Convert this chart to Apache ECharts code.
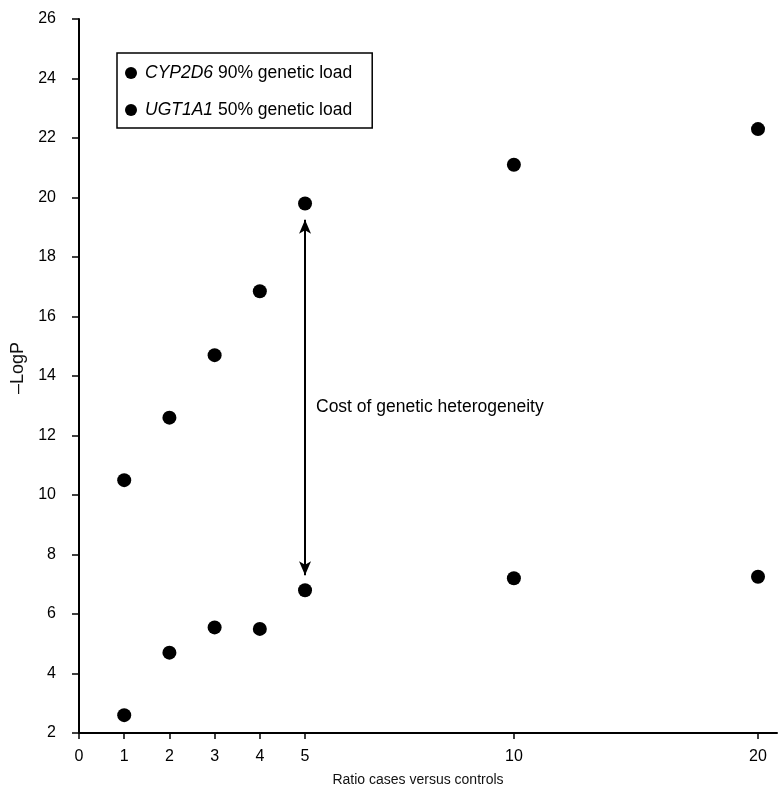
<!DOCTYPE html>
<html lang="en">
<head>
    <meta charset="utf-8"/>
    <title>Cost of genetic heterogeneity</title>
    <script src="https://cdn.jsdelivr.net/npm/echarts@6/dist/echarts.min.js"></script>
    <style>
        * { margin: 0; padding: 0; }
        html, body { width: 100%; height: 100%; background: #fff; }
        #main { width: 780px; height: 792px; }
    </style>
</head>
<body>
<div id="main"></div>
<script>
    // ratio cases / controls
    var ratios = [1, 2, 3, 4, 5, 10, 20];
    // -LogP values
    var cyp2d6 = [10.5, 12.6, 14.7, 16.85, 19.8, 21.1, 22.3];
    var ugt1a1 = [2.6, 4.7, 5.55, 5.5, 6.8, 7.2, 7.25];

    // x axis is not linear: tick labels and where they sit on the axis
    var xTickLabels = [0, 1, 2, 3, 4, 5, 10, 20];
    var xTickPos = [0, 1, 2, 3, 4, 5, 9.62, 15.02];

    // arrow between the two series at ratio 5
    var arrowRatio = 5;
    var arrowFrom = 19.25;
    var arrowTo = 7.3;

    var FONT = 'Liberation Sans, Arial, sans-serif';

    // ratio -> axis position, piecewise between the ticks
    function toPos(r) {
        for (var i = 1; i < xTickLabels.length; i++) {
            if (r <= xTickLabels[i]) {
                var a = xTickLabels[i - 1], b = xTickLabels[i];
                return xTickPos[i - 1] + (r - a) / (b - a) * (xTickPos[i] - xTickPos[i - 1]);
            }
        }
        return xTickPos[xTickPos.length - 1];
    }

    function tickLabel(v) {
        for (var i = 0; i < xTickPos.length; i++) {
            if (Math.abs(xTickPos[i] - v) < 0.01) return String(xTickLabels[i]);
        }
        return '';
    }

    var cypData = ratios.map(function (r, i) { return [toPos(r), cyp2d6[i]]; });
    var ugtData = ratios.map(function (r, i) { return [toPos(r), ugt1a1[i]]; });

    var chart = echarts.init(document.getElementById('main'));

    var option = {
        backgroundColor: '#fff',
        animation: false,
        textStyle: { fontFamily: FONT, color: '#000' },
        grid: { left: 79, right: 3, top: 19, bottom: 59 },
        legend: {
            orient: 'vertical',
            left: 117,
            top: 53,
            padding: [11, 20, 9, 8],
            itemGap: 19,
            itemWidth: 12,
            itemHeight: 12,
            icon: 'circle',
            borderColor: '#000',
            borderWidth: 1.5,
            backgroundColor: '#fff',
            itemStyle: { opacity: 1 },
            textStyle: {
                fontFamily: FONT, fontSize: 17.5, color: '#000',
                rich: {
                    i: { fontFamily: FONT, fontSize: 17.5, fontStyle: 'italic', color: '#000', padding: [0, 0, 0, 3] },
                    n: { fontFamily: FONT, fontSize: 17.5, color: '#000' }
                }
            },
            formatter: function (name) {
                var parts = name.split(' ');
                return '{i|' + parts[0] + '}{n| ' + parts.slice(1).join(' ') + '}';
            },
            data: ['CYP2D6 90% genetic load', 'UGT1A1 50% genetic load']
        },
        xAxis: {
            type: 'value',
            min: 0,
            max: 15.44,
            name: 'Ratio cases versus controls',
            nameLocation: 'middle',
            nameGap: 40,
            nameTextStyle: { fontFamily: FONT, fontSize: 14, color: '#111', padding: [0, 20, 0, 0] },
            axisLine: { lineStyle: { color: '#000', width: 2 } },
            axisTick: { show: true, length: 6, customValues: xTickPos, lineStyle: { color: '#000', width: 1.5 } },
            axisLabel: {
                customValues: xTickPos,
                formatter: tickLabel,
                margin: 16,
                fontFamily: FONT, fontSize: 16, color: '#000'
            },
            splitLine: { show: false }
        },
        yAxis: {
            type: 'value',
            min: 2,
            max: 26,
            interval: 2,
            name: '\u2013LogP',
            nameLocation: 'middle',
            nameGap: 50,
            nameTextStyle: { fontFamily: FONT, fontSize: 18, color: '#111', padding: [0, 0, 0, 16] },
            axisLine: { show: true, lineStyle: { color: '#000', width: 2 } },
            axisTick: { show: true, length: 7, lineStyle: { color: '#000', width: 1.5 } },
            axisLabel: { margin: 23, fontFamily: FONT, fontSize: 16, color: '#000' },
            splitLine: { show: false }
        },
        series: [
            {
                name: 'CYP2D6 90% genetic load',
                type: 'scatter',
                symbol: 'circle',
                symbolSize: 14,
                itemStyle: { color: '#000', opacity: 1 },
                data: cypData,
                markLine: {
                    silent: true,
                    symbol: ['arrow', 'arrow'],
                    symbolSize: [9, 14],
                    label: { show: false },
                    lineStyle: { color: '#000', width: 2, type: 'solid' },
                    data: [[
                        { coord: [toPos(arrowRatio), arrowFrom] },
                        { coord: [toPos(arrowRatio), arrowTo] }
                    ]]
                }
            },
            {
                name: 'UGT1A1 50% genetic load',
                type: 'scatter',
                symbol: 'circle',
                symbolSize: 14,
                itemStyle: { color: '#000', opacity: 1 },
                data: ugtData
            }
        ],
        graphic: [
            {
                type: 'text',
                left: 316,
                top: 398,
                style: {
                    text: 'Cost of genetic heterogeneity',
                    font: '17.5px ' + FONT,
                    fill: '#000'
                }
            }
        ]
    };

    chart.setOption(option);
</script>
</body>
</html>
